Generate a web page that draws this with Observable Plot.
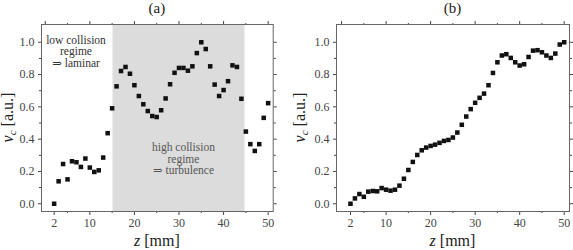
<!DOCTYPE html>
<html>
<head>
<meta charset="utf-8">
<script src="https://cdn.jsdelivr.net/npm/d3@7"></script>
<script src="https://cdn.jsdelivr.net/npm/@observablehq/plot@0.6"></script>
<style>
  html, body { margin: 0; padding: 0; background: #fff; }
  #wrap { display: flex; flex-direction: row; width: 573px; height: 250px; }
  #wrap svg, #wrap svg text { font-family: "Liberation Serif", "DejaVu Serif", serif !important; }
</style>
</head>
<body>
<div id="wrap"></div>
<script>
// ---- data ----
const zA = [2,3,4,5,6,7,8,9,10,11,12,13,14,15,16,17,18,19,20,21,22,23,24,25,26,27,28,29,30,31,32,33,34,35,36,37,38,39,40,41,42,43,44,45,46,47,48,49,50];
const nuA = [0.00,0.139,0.246,0.151,0.263,0.257,0.228,0.280,0.224,0.197,0.207,0.286,0.437,
  0.591,0.727,0.822,0.847,0.805,0.734,0.667,0.616,0.574,0.543,0.537,0.579,0.652,0.740,0.811,0.841,0.841,0.824,0.851,0.933,1.0,0.958,0.851,0.738,0.667,0.704,0.759,0.857,0.847,0.650,
  0.447,0.369,0.327,0.369,0.532,0.623];
const zB = zA;
const nuB = [0.00,0.033,0.060,0.043,0.075,0.079,0.077,0.097,0.087,0.081,0.087,0.112,0.155,0.209,0.259,0.302,0.331,0.348,0.358,0.366,0.377,0.389,0.395,0.410,0.441,
  0.489,0.540,0.586,0.625,0.656,0.682,0.734,0.810,0.876,0.918,0.926,0.903,0.876,0.856,0.864,0.909,0.948,0.951,0.938,0.918,0.903,0.930,0.986,1.0];
const regime = [{x1: 15.2, x2: 44.8}];
const xTicksMajor = [2,10,20,30,40,50];
const xTicksMinor = [5,15,25,35,45];
const xTopMajor = [0,10,20,30,40,50];
const yTicksMajor = [0,0.2,0.4,0.6,0.8,1.0];
const yTicksMinor = [0.1,0.3,0.5,0.7,0.9];
const lowText = "low collision\nregime\n⇒ laminar";
const highText = "high collision\nregime\n⇒ turbulence";
const titles = ["(a)", "(b)"];

const SERIF = "Liberation Serif";

function panel(z, nu, opts) {
  const data = z.map((d, i) => ({z: d, nu: nu[i]}));
  const frameColor = "#666";
  const marks = [];
  if (opts.shade) {
    marks.push(Plot.rect(regime, {x1: "x1", x2: "x2", fill: "#dcdcdc"}));
    marks.push(Plot.text([lowText], {x: 6.9, y: 1.04, text: d => d, fontSize: 11.5, fontFamily: SERIF, lineHeight: 1, fill: "#333", lineAnchor: "top"}));
    marks.push(Plot.text([highText], {x: 31, y: 0.375, text: d => d, fontSize: 11.5, fontFamily: SERIF, lineHeight: 1, fill: "#555", lineAnchor: "top"}));
  }
  marks.push(
    Plot.axisX({anchor: "bottom", ticks: xTicksMajor, tickSize: 4, tickPadding: 3, fontSize: 12, fontFamily: SERIF, tickFormat: d => String(d), label: null, color: "#444"}),
    Plot.axisX({anchor: "bottom", ticks: xTicksMinor, tickSize: 2, tickFormat: () => "", label: null, color: "#444"}),
    Plot.axisX({anchor: "top", ticks: xTopMajor, tickSize: 4, tickFormat: () => "", label: null, color: "#444"}),
    Plot.axisX({anchor: "top", ticks: xTicksMinor, tickSize: 2, tickFormat: () => "", label: null, color: "#444"}),
    Plot.axisY({anchor: "left", ticks: yTicksMajor, tickSize: 3, tickPadding: 4, fontSize: 12, fontFamily: SERIF, tickFormat: d3.format(".1f"), label: null, color: "#444"}),
    Plot.axisY({anchor: "left", ticks: yTicksMinor, tickSize: 2, tickFormat: () => "", label: null, color: "#444"}),
    Plot.axisY({anchor: "right", ticks: yTicksMajor, tickSize: 3, tickFormat: () => "", label: null, color: "#444"}),
    Plot.axisY({anchor: "right", ticks: yTicksMinor, tickSize: 2, tickFormat: () => "", label: null, color: "#444"}),
    Plot.frame({stroke: frameColor, strokeWidth: 1}),
    Plot.dot(data, {x: "z", y: "nu", symbol: "square", r: 2.55, fill: "#111", stroke: "none"})
  );
  const svg = Plot.plot({
    width: opts.width, height: 250,
    marginLeft: opts.ml, marginRight: opts.mr, marginTop: 24, marginBottom: 39,
    style: {fontFamily: SERIF, fontSize: "12px", background: "transparent"},
    x: {domain: opts.xd},
    y: {domain: [-0.048, 1.110]},
    marks
  });
  const s = d3.select(svg);
  const cx = opts.ml + (opts.width - opts.ml - opts.mr) / 2;
  // title
  s.append("text").attr("x", cx).attr("y", 13).attr("text-anchor", "middle")
    .attr("font-family", SERIF).attr("font-size", 15).attr("fill", "#222").text(opts.title);
  // x label
  const xl = s.append("text").attr("x", cx).attr("y", 246).attr("text-anchor", "middle")
    .attr("font-family", SERIF).attr("font-size", 16).attr("fill", "#222");
  xl.append("tspan").attr("font-style", "italic").text("z");
  xl.append("tspan").text(" [mm]");
  // y label
  const cy = 24 + (250 - 24 - 39) / 2;
  const yl = s.append("text").attr("transform", `translate(${opts.ylx},${cy}) rotate(-90)`)
    .attr("font-family", SERIF).attr("text-anchor", "middle").attr("font-size", 16).attr("fill", "#222");
  yl.append("tspan").attr("font-style", "italic").text("ν");
  yl.append("tspan").attr("font-style", "italic").attr("font-size", 11).attr("dy", 3).text("c");
  yl.append("tspan").attr("dy", -3).text(" [a.u.]");
  return svg;
}

const wrap = document.getElementById("wrap");
wrap.appendChild(panel(zA, nuA, {width: 286, ml: 41, mr: 13.3, xd: [-0.84, 51.13], shade: true, title: titles[0], ylx: 13}));
wrap.appendChild(panel(zB, nuB, {width: 287, ml: 50, mr: 4, xd: [-1.14, 51.19], shade: false, title: titles[1], ylx: 19}));
</script>
</body>
</html>
